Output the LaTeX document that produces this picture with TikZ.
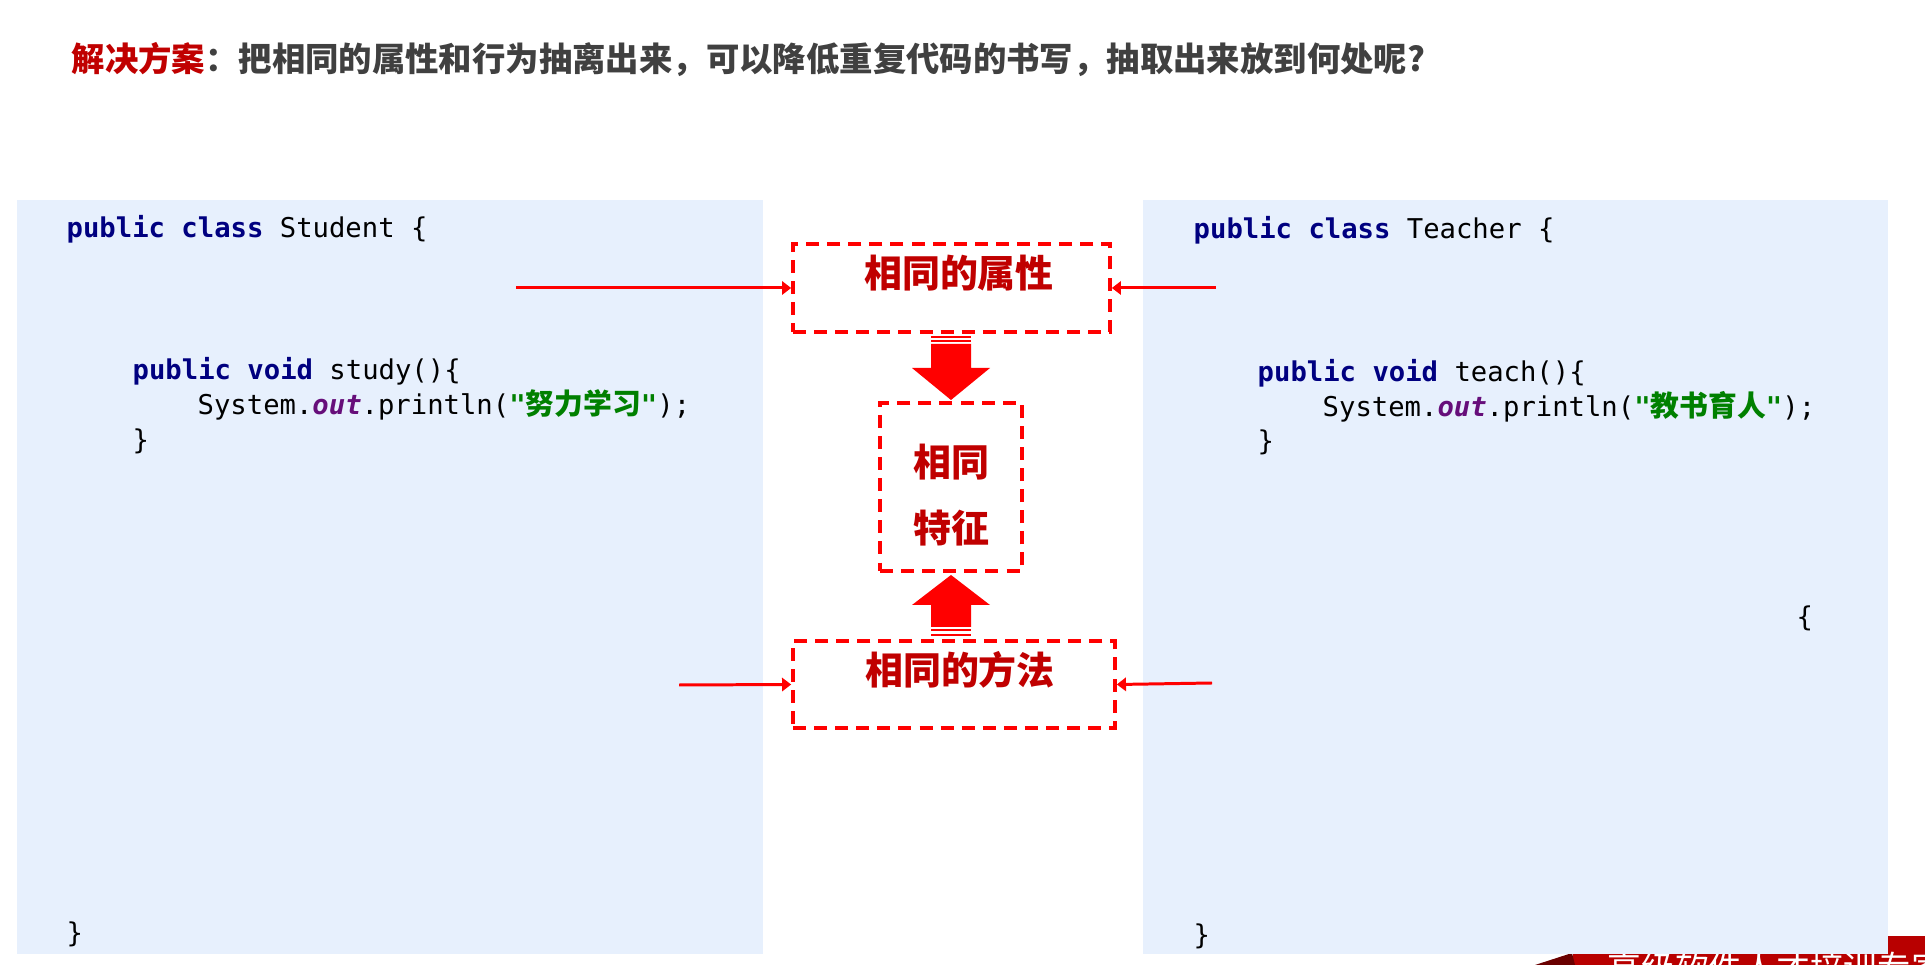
\documentclass[tikz,border=0pt]{standalone}
\usepackage{fontspec}
\usepackage{xcolor}
\setmonofont{DejaVu Sans Mono}
\newfontfamily\cjk{Noto Sans CJK SC}
\usetikzlibrary{arrows.meta}

\definecolor{panelblue}{HTML}{E7F0FD}
\definecolor{kwnavy}{HTML}{000080}
\definecolor{fieldpurple}{HTML}{660E7A}
\definecolor{strgreen}{HTML}{008000}
\definecolor{darkred}{HTML}{C00000}
\definecolor{titlegray}{HTML}{404040}
\definecolor{logored}{HTML}{B80000}
\definecolor{logodark}{HTML}{6A0000}

\newcommand\javakw[1]{{\bfseries\color{kwnavy}#1}}
\newcommand\javafield[1]{{\bfseries\itshape\color{fieldpurple}#1}}
\newcommand\javastr[1]{{\bfseries\color{strgreen}#1}}
\newcommand\zh[1]{{\cjk\fontsize{8.2pt}{9pt}\selectfont#1}}

\begin{document}
\begin{tikzpicture}[
  every node/.style={inner sep=0pt},
  title/.style={font=\cjk\bfseries\fontsize{9.5pt}{11pt}\selectfont,text=titlegray},
  code/.style={font=\ttfamily\fontsize{7.75pt}{9pt}\selectfont,anchor=base west},
  panel/.style={fill=panelblue},
  samebox/.style={draw=red,line width=1.05pt,dash pattern=on 3.7pt off 2.3pt,
    text=darkred,font=\cjk\bfseries\fontsize{10.8pt}{18.8pt}\selectfont},
  arrow/.style={-{Triangle[length=2.6pt,width=3.8pt]},red,line width=0.85pt},
  bigarrow/.style={fill=red},
  logo/.style={font=\cjk\fontsize{9.6pt}{11pt}\selectfont,text=white}]
\path[use as bounding box,clip] (0,0) rectangle (19.25,-9.65);

% title
\node[title,anchor=west] (title) at (0.71,-0.595)
  {{\color{darkred}解决方案}：把相同的属性和行为抽离出来，可以降低重复代码的书写，抽取出来放到何处呢?};

% logo strip under the right panel
\fill[logored] (15.73,-9.36) rectangle (19.25,-9.65);
\fill[logodark] (15.35,-9.65) -- (15.72,-9.53) -- (15.75,-9.65) -- cycle;
\node[logo,anchor=base west] (slogan) at (16.07,-9.81) {高级软件人才培训专家};

% two code panels
\node[panel,minimum width=7.46cm,minimum height=7.54cm,anchor=north west] (student) at (0.16,-1.99) {};
\node[panel,minimum width=7.45cm,minimum height=7.54cm,anchor=north west] (teacher) at (11.42,-1.99) {};

\node[code] (s1) at (0.66,-2.38) {\javakw{public} \javakw{class} Student \{};
\node[code] (s2) at (1.32,-3.80) {\javakw{public} \javakw{void} study()\{};
\node[code] (s3) at (1.97,-4.15) {System.\javafield{out}.println(\javastr{"\zh{努力学习}"});};
\node[code] (s4) at (1.32,-4.50) {\}};
\node[code] (s5) at (0.66,-9.43) {\}};

\node[code] (t1) at (11.93,-2.39) {\javakw{public} \javakw{class} Teacher \{};
\node[code] (t2) at (12.57,-3.82) {\javakw{public} \javakw{void} teach()\{};
\node[code] (t3) at (13.22,-4.17) {System.\javafield{out}.println(\javastr{"\zh{教书育人}"});};
\node[code] (t4) at (12.57,-4.51) {\}};
\node[code] (t5) at (17.96,-6.27) {\{};
\node[code] (t6) at (11.93,-9.44) {\}};

% common parts in the middle
\node[samebox,minimum width=3.17cm,text height=0.44cm,text depth=0.44cm] (attr) at (9.515,-2.88) {\hspace*{0.15cm}相同的属性};
\node[samebox,minimum width=1.42cm,minimum height=1.68cm,align=center] (feat) at (9.51,-4.87) {\rule{0pt}{14pt}相同\\特征};
\node[samebox,minimum width=3.22cm,text height=0.435cm,text depth=0.435cm] (meth) at (9.54,-6.845) {\hspace*{0.12cm}相同的方法};

\coordinate (sa) at (5.16,-2.88);
\coordinate (ta) at (12.16,-2.88);
\coordinate (sm) at (6.79,-6.85);
\coordinate (tm) at (12.12,-6.83);
\draw[arrow] (sa) -- (attr.west);
\draw[arrow] (ta) -- (attr.east);
\draw[arrow] (sm) -- (meth.west);
\draw[arrow] (tm) -- (meth.east);

% striped block arrows
\fill[bigarrow] (9.31,-3.44) -- (9.71,-3.44) -- (9.71,-3.68) -- (9.90,-3.68)
  -- (9.51,-4.00) -- (9.12,-3.68) -- (9.31,-3.68) -- cycle;
\fill[bigarrow] (9.31,-6.27) -- (9.71,-6.27) -- (9.71,-6.05) -- (9.90,-6.05)
  -- (9.51,-5.75) -- (9.12,-6.05) -- (9.31,-6.05) -- cycle;
\foreach \y in {3.36,3.40,6.29,6.34}
  \fill[bigarrow] (9.31,-\y) rectangle ++(0.40,-0.022);
\end{tikzpicture}
\end{document}
